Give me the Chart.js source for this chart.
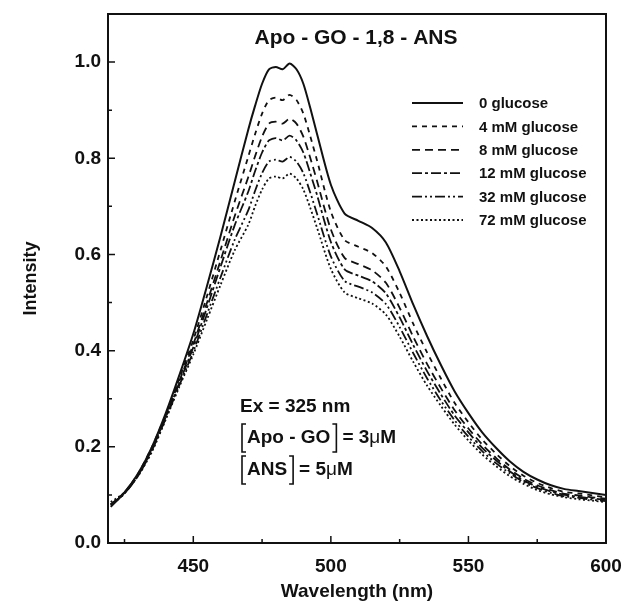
<!DOCTYPE html>
<html>
<head>
<meta charset="utf-8">
<script src="https://cdn.jsdelivr.net/npm/chart.js@4/dist/chart.umd.min.js"></script>
<style>
  html, body { margin: 0; padding: 0; background: #fff; }
  #wrap { width: 625px; height: 605px; }
</style>
</head>
<body>
<div id="wrap"><canvas id="chart" width="625" height="605"></canvas></div>
<script>
// emission spectra, wavelength in nm
const wavelengths = [420, 425, 430, 435, 440, 445, 450, 455, 460, 465, 470, 472.5, 475, 477.5, 480, 482.5, 485, 487.5, 490, 492.5, 495,
  500, 505, 510, 515, 520, 525, 530, 535, 540, 545, 550, 555, 560, 565, 570, 575, 580, 585, 590, 595, 600];

const glucose0 = [0.075, 0.105, 0.145, 0.20, 0.27, 0.35, 0.435, 0.535, 0.64, 0.75, 0.86, 0.91, 0.955, 0.985, 0.99, 0.985, 0.997, 0.985, 0.955, 0.905, 0.85,
  0.745, 0.685, 0.67, 0.655, 0.625, 0.565, 0.495, 0.43, 0.37, 0.315, 0.27, 0.23, 0.198, 0.17, 0.148, 0.132, 0.12, 0.112, 0.108, 0.104, 0.10];
const glucose4 = [0.08, 0.105, 0.145, 0.20, 0.267, 0.343, 0.422, 0.514, 0.611, 0.709, 0.804, 0.851, 0.893, 0.921, 0.926, 0.921, 0.932, 0.921, 0.893, 0.846, 0.795,
  0.689, 0.630, 0.616, 0.603, 0.575, 0.520, 0.455, 0.396, 0.342, 0.291, 0.251, 0.215, 0.186, 0.160, 0.140, 0.125, 0.114, 0.106, 0.103, 0.099, 0.095];
const glucose8 = [0.08, 0.105, 0.143, 0.197, 0.265, 0.338, 0.413, 0.500, 0.589, 0.679, 0.761, 0.805, 0.845, 0.872, 0.876, 0.872, 0.882, 0.872, 0.845, 0.801, 0.752,
  0.652, 0.593, 0.580, 0.567, 0.541, 0.489, 0.428, 0.372, 0.322, 0.276, 0.238, 0.205, 0.177, 0.153, 0.134, 0.120, 0.110, 0.102, 0.099, 0.095, 0.092];
const glucose12 = [0.078, 0.103, 0.141, 0.195, 0.262, 0.334, 0.407, 0.490, 0.576, 0.660, 0.731, 0.774, 0.812, 0.837, 0.842, 0.837, 0.847, 0.837, 0.812, 0.769, 0.723,
  0.626, 0.569, 0.556, 0.544, 0.519, 0.469, 0.411, 0.357, 0.309, 0.265, 0.230, 0.198, 0.172, 0.149, 0.130, 0.117, 0.107, 0.100, 0.096, 0.093, 0.089];
const glucose32 = [0.08, 0.103, 0.14, 0.193, 0.259, 0.329, 0.398, 0.476, 0.554, 0.630, 0.692, 0.733, 0.769, 0.793, 0.797, 0.793, 0.803, 0.793, 0.769, 0.729, 0.684,
  0.596, 0.545, 0.533, 0.521, 0.497, 0.449, 0.394, 0.342, 0.296, 0.255, 0.221, 0.191, 0.166, 0.145, 0.127, 0.114, 0.104, 0.097, 0.094, 0.090, 0.087];
const glucose72 = [0.085, 0.105, 0.14, 0.19, 0.257, 0.326, 0.392, 0.465, 0.538, 0.608, 0.662, 0.701, 0.735, 0.758, 0.762, 0.758, 0.768, 0.758, 0.735, 0.697, 0.655,
  0.570, 0.521, 0.509, 0.498, 0.475, 0.429, 0.376, 0.327, 0.285, 0.246, 0.213, 0.184, 0.160, 0.139, 0.123, 0.110, 0.101, 0.095, 0.091, 0.088, 0.085];

const seriesLabels = ['0 glucose', '4 mM glucose', '8 mM glucose', '12 mM glucose', '32 mM glucose', '72 mM glucose'];

const xMajor = [450, 500, 550, 600];
const xMinor = [425, 475, 525, 575];
const yMajor = [0, 0.2, 0.4, 0.6, 0.8, 1.0];
const yMinor = [0.1, 0.3, 0.5, 0.7, 0.9];

const FONT = '"Liberation Sans", Arial, sans-serif';
const INK = '#111';

const series = [glucose0, glucose4, glucose8, glucose12, glucose32, glucose72];
const dashes = [[], [5, 5], [8, 5], [10, 3, 3, 3], [10, 3, 2, 3, 2, 3], [2, 2.5]];

const datasets = series.map((vals, i) => ({
  label: seriesLabels[i],
  data: wavelengths.map((w, j) => ({ x: w, y: vals[j] })),
  borderColor: INK,
  borderWidth: i === 0 ? 2 : 1.8,
  borderDash: dashes[i],
  pointRadius: 0,
  tension: 0.25,
  fill: false
}));

// frame, inward ticks, legend and the sample notes
const decor = {
  id: 'decor',
  afterDatasetsDraw(chart) {
    const { ctx, chartArea: a, scales: { x, y } } = chart;
    ctx.save();
    ctx.strokeStyle = INK;
    ctx.lineWidth = 2;
    ctx.setLineDash([]);
    ctx.strokeRect(a.left, a.top, a.right - a.left, a.bottom - a.top);

    ctx.lineWidth = 1.5;
    ctx.beginPath();
    for (const v of xMajor) { const px = x.getPixelForValue(v); ctx.moveTo(px, a.bottom); ctx.lineTo(px, a.bottom - 7); }
    for (const v of xMinor) { const px = x.getPixelForValue(v); ctx.moveTo(px, a.bottom); ctx.lineTo(px, a.bottom - 4); }
    for (const v of yMajor) { const py = y.getPixelForValue(v); ctx.moveTo(a.left, py); ctx.lineTo(a.left + 7, py); }
    for (const v of yMinor) { const py = y.getPixelForValue(v); ctx.moveTo(a.left, py); ctx.lineTo(a.left + 4, py); }
    ctx.stroke();

    ctx.fillStyle = INK;
    ctx.font = 'bold 21px ' + FONT;
    ctx.textAlign = 'center';
    ctx.textBaseline = 'middle';
    ctx.fillText('Apo - GO - 1,8 - ANS', 356, 38);

    // legend
    ctx.font = 'bold 15px ' + FONT;
    ctx.textAlign = 'left';
    chart.data.datasets.forEach((ds, i) => {
      const ly = 103 + i * 23.4;
      ctx.lineWidth = ds.borderWidth;
      ctx.setLineDash(ds.borderDash);
      ctx.beginPath();
      ctx.moveTo(412, ly);
      ctx.lineTo(463, ly);
      ctx.stroke();
      ctx.setLineDash([]);
      ctx.fillText(ds.label, 479, ly + 1);
    });

    // conditions
    const tx = 240;
    ctx.font = 'bold 19px ' + FONT;
    ctx.fillText('Ex = 325 nm', tx, 407);

    const bracketed = (inner, rest, cy) => {
      ctx.font = 'bold 19px ' + FONT;
      const w = ctx.measureText(inner).width;
      const x0 = tx + 2, x1 = x0 + 6 + w + 5;
      ctx.lineWidth = 1.6;
      ctx.beginPath();
      ctx.moveTo(x0 + 4, cy - 14); ctx.lineTo(x0, cy - 14); ctx.lineTo(x0, cy + 14); ctx.lineTo(x0 + 4, cy + 14);
      ctx.moveTo(x1 - 4, cy - 14); ctx.lineTo(x1, cy - 14); ctx.lineTo(x1, cy + 14); ctx.lineTo(x1 - 4, cy + 14);
      ctx.stroke();
      ctx.fillText(inner, x0 + 5, cy);
      let cx = x1 + 6;
      for (const part of rest) {
        ctx.font = (part === 'μ' ? '19px ' : 'bold 19px ') + FONT;
        ctx.fillText(part, cx, cy);
        cx += ctx.measureText(part).width;
      }
    };
    bracketed('Apo - GO', ['= 3', 'μ', 'M'], 438);
    bracketed('ANS', ['= 5', 'μ', 'M'], 470);
    ctx.restore();
  }
};

new Chart(document.getElementById('chart'), {
  type: 'line',
  data: { datasets },
  plugins: [decor],
  options: {
    responsive: false,
    animation: false,
    layout: { padding: { left: 0, right: 19, top: 14, bottom: 0 } },
    plugins: { legend: { display: false }, tooltip: { enabled: false } },
    scales: {
      x: {
        type: 'linear',
        min: 419,
        max: 600,
        afterBuildTicks: (s) => { s.ticks = xMajor.map(v => ({ value: v })); },
        afterFit: (s) => { s.height = 62; s.paddingLeft = 0; s.paddingRight = 0; },
        grid: { display: false, drawTicks: false },
        border: { display: false },
        ticks: { color: INK, padding: 12, maxRotation: 0, font: { family: FONT, size: 19, weight: 'bold' } },
        title: { display: true, text: 'Wavelength (nm)', color: INK, padding: { top: 0, bottom: 2 }, font: { family: FONT, size: 19, weight: 'bold' } }
      },
      y: {
        min: 0,
        max: 1.1,
        afterBuildTicks: (s) => { s.ticks = yMajor.map(v => ({ value: v })); },
        afterFit: (s) => { s.width = 108; s.paddingTop = 0; s.paddingBottom = 0; },
        grid: { display: false, drawTicks: false },
        border: { display: false },
        ticks: { color: INK, padding: 7, callback: (v) => v.toFixed(1), font: { family: FONT, size: 19, weight: 'bold' } },
        title: { display: true, text: 'Intensity', color: INK, padding: { top: 20, bottom: 0 }, font: { family: FONT, size: 18, weight: 'bold' } }
      }
    }
  }
});
</script>
</body>
</html>
